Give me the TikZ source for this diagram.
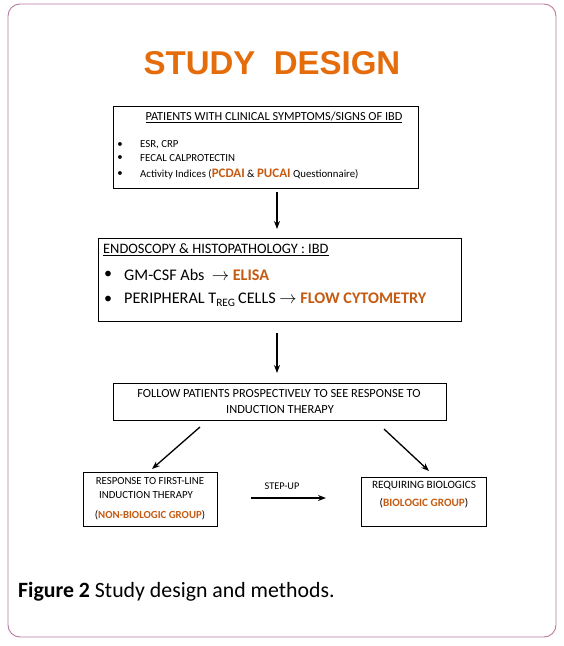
\documentclass[tikz,border=0pt]{standalone}
\usepackage{fontspec}
\setmainfont{Carlito}
\newfontfamily\arialf{Liberation Sans}
\usetikzlibrary{arrows.meta}
\definecolor{frame}{HTML}{B9799F}
\definecolor{ttl}{HTML}{E46C0A}
\definecolor{org}{HTML}{C55A11}
\begin{document}
\begin{tikzpicture}[x=1pt,y=-1pt,
  box/.style={draw=black,line width=0.9pt},
  txt/.style={inner sep=0pt,font=\fontsize{10.8}{12}\selectfont},
  arr/.style={-{Stealth[length=8pt,width=6pt]},line width=1.3pt}]
\useasboundingbox (0,0) rectangle (564,646);
\draw[frame,line width=0.9pt,rounded corners=12pt] (8,4) rectangle (556,637);
\node[inner sep=0pt,text=ttl,font=\arialf\bfseries\fontsize{33}{36}\selectfont] (title) at (272,63) {STUDY\ \ DESIGN};
% box 1
\draw[box] (113,106) rectangle (418,188);
\node[txt,font=\fontsize{12.3}{14}\selectfont] (b1t) at (274,117) {\underline{PATIENTS WITH CLINICAL SYMPTOMS/SIGNS OF IBD}};
\node[txt,anchor=west] (b1a) at (140,145) {ESR, CRP};
\node[txt,anchor=west] (b1b) at (140,158) {FECAL CALPROTECTIN};
\node[txt,anchor=west] (b1c) at (140,174) {Activity Indices (\textcolor{org}{\bfseries\fontsize{13}{14}\selectfont PCDAI} \& \textcolor{org}{\bfseries\fontsize{13}{14}\selectfont PUCAI} Questionnaire)};
\foreach \y/\n in {145/p1,158/p2,174/p3} \node[txt] (\n) at (120,\y) {\textbullet};
\coordinate (a1s) at (277,192); \coordinate (a1e) at (277,229);
\draw[arr] (a1s) -- (a1e);
% box 2
\draw[box] (98,238) rectangle (461,321);
\node[txt,anchor=west,font=\fontsize{14.4}{16}\selectfont] (b2t) at (103,250) {\underline{ENDOSCOPY \& HISTOPATHOLOGY : IBD}};
\node[txt,font=\fontsize{16}{18}\selectfont] (q1) at (108,275) {\textbullet};
\node[txt,font=\fontsize{16}{18}\selectfont] (q2) at (108,300) {\textbullet};
\node[txt,anchor=west,font=\fontsize{16.2}{18}\selectfont] (b2a) at (124,275) {GM-CSF Abs \ $\rightarrow$ \textcolor{org}{\bfseries ELISA}};
\node[txt,anchor=west,font=\fontsize{16.2}{18}\selectfont] (b2b) at (124,300) {PERIPHERAL T\textsubscript{REG}\,CELLS $\rightarrow$ \textcolor{org}{\bfseries FLOW CYTOMETRY}};
\coordinate (a2s) at (277,333); \coordinate (a2e) at (277,373);
\draw[arr] (a2s) -- (a2e);
% box 3
\draw[box] (113,383) rectangle (446,420);
\node[txt,font=\fontsize{12.4}{14}\selectfont] (b3a) at (279,394) {FOLLOW PATIENTS PROSPECTIVELY TO SEE RESPONSE TO};
\node[txt,font=\fontsize{12.4}{14}\selectfont] (b3b) at (280,410) {INDUCTION THERAPY};
\coordinate (l1) at (200,427); \coordinate (l2) at (152,469);
\coordinate (r1) at (384,429); \coordinate (r2) at (429,471);
\draw[arr] (l1) -- (l2);
\draw[arr] (r1) -- (r2);
% box 4
\draw[box] (83,472) rectangle (217,526);
\node[txt] (b4a) at (150,481) {RESPONSE TO FIRST-LINE};
\node[txt] (b4b) at (146,495) {INDUCTION THERAPY};
\node[txt] (b4c) at (150,515) {(\textcolor{org}{\bfseries NON-BIOLOGIC GROUP})};
% box 5
\draw[box] (361,477) rectangle (486,526);
\node[txt,font=\fontsize{11.2}{13}\selectfont] (b5a) at (424,486) {REQUIRING BIOLOGICS};
\node[txt,font=\fontsize{11.2}{13}\selectfont] (b5b) at (424,503) {(\textcolor{org}{\bfseries BIOLOGIC GROUP})};
% step-up
\node[txt,font=\fontsize{10.3}{12}\selectfont] (su) at (282,486) {STEP-UP};
\coordinate (s1) at (251,498); \coordinate (s2) at (326,498);
\draw[arr] (s1) -- (s2);
% caption
\node[inner sep=0pt,anchor=west,font=\fontsize{21.8}{24}\selectfont] (cap) at (18,592) {\textbf{Figure 2} Study design and methods.};
\end{tikzpicture}
\end{document}
